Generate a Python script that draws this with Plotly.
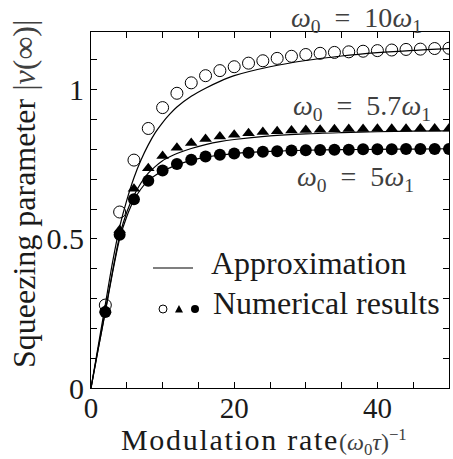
import plotly.graph_objects as go

# ---------------- data ----------------
x_num = [2, 4, 6, 8, 10, 12, 14, 16, 18, 20, 22, 24, 26, 28, 30, 32, 34, 36, 38, 40, 42, 44, 46, 48, 50]
num_w10 = [0.278, 0.590, 0.764, 0.870, 0.940, 0.988, 1.023, 1.047, 1.064, 1.077, 1.089, 1.097, 1.105,
           1.112, 1.118, 1.122, 1.125, 1.127, 1.129, 1.131, 1.133, 1.135, 1.136, 1.138, 1.139]
num_w57 = [0.262, 0.530, 0.668, 0.737, 0.778, 0.805, 0.821, 0.835, 0.843, 0.849, 0.854, 0.858, 0.861,
           0.863, 0.865, 0.866, 0.867, 0.868, 0.868, 0.869, 0.869, 0.869, 0.870, 0.870, 0.870]
num_w5 = [0.255, 0.514, 0.633, 0.695, 0.729, 0.751, 0.765, 0.776, 0.782, 0.786, 0.789, 0.792, 0.794,
          0.796, 0.797, 0.798, 0.799, 0.799, 0.800, 0.800, 0.800, 0.801, 0.801, 0.801, 0.801]

x_apx = [0, 1, 2, 3, 4, 5, 6, 7, 8, 9, 10, 11, 12, 14, 16, 18, 20, 25, 30, 35, 40, 45, 50]
apx_w10 = [0, 0.14, 0.28, 0.42, 0.54, 0.63, 0.705, 0.765, 0.815, 0.857, 0.89, 0.918, 0.942,
           0.978, 1.005, 1.028, 1.047, 1.077, 1.098, 1.113, 1.124, 1.132, 1.138]
apx_w57 = [0, 0.13, 0.258, 0.39, 0.51, 0.59, 0.645, 0.688, 0.72, 0.743, 0.762, 0.775, 0.786,
           0.803, 0.816, 0.826, 0.833, 0.845, 0.852, 0.856, 0.859, 0.861, 0.862]
apx_w5 = [0, 0.13, 0.255, 0.385, 0.50, 0.575, 0.63, 0.668, 0.695, 0.713, 0.727, 0.738, 0.748,
          0.763, 0.774, 0.781, 0.786, 0.793, 0.797, 0.799, 0.800, 0.801, 0.802]

x_ticks = [0, 5, 10, 15, 20, 25, 30, 35, 40, 45, 50]
x_ticklabels = ["0", "", "", "", "20", "", "", "", "40", "", ""]
y_ticks = [0, 0.1, 0.2, 0.3, 0.4, 0.5, 0.6, 0.7, 0.8, 0.9, 1.0, 1.1]
y_ticklabels = ["0", "", "", "", "", "0.5", "", "", "", "", "1", ""]

label_w10 = "<i>ω</i><sub>0</sub>&nbsp;&nbsp;=&nbsp;&nbsp;10<i>ω</i><sub>1</sub>"
label_w57 = "<i>ω</i><sub>0</sub>&nbsp;&nbsp;=&nbsp;&nbsp;5.7<i>ω</i><sub>1</sub>"
label_w5 = "<i>ω</i><sub>0</sub>&nbsp;&nbsp;=&nbsp;&nbsp;5<i>ω</i><sub>1</sub>"
legend_line = "Approximation"
legend_pts = "Numerical results"
x_title = "Modulation rate"
x_title_math = "(<i>ω</i><sub>0</sub><i>τ</i>)<sup>−1</sup>"
y_title = "Squeezing parameter"
y_title_math = "|<i>ν</i>(∞)|"

# ---------------- layout geometry ----------------
W, H = 453, 459
L, R, T, B = 91, 449, 32, 388
SERIF = "Liberation Serif, Times New Roman, serif"
INK = "#1a1a1a"
MATH = "#404040"


def px(xp):
    return (xp - L) / (R - L)


def py(yp):
    return (B - yp) / (B - T)


fig = go.Figure()
line_style = dict(color="black", width=1.2, shape="spline", smoothing=0.8)
for ys in (apx_w10, apx_w57, apx_w5):
    fig.add_trace(go.Scatter(x=x_apx, y=ys, mode="lines", line=line_style,
                             showlegend=False, hoverinfo="skip"))

fig.add_trace(go.Scatter(x=x_num, y=num_w10, mode="markers",
                         marker=dict(symbol="circle-open", size=12, color="black", line=dict(width=1)),
                         showlegend=False))
fig.add_trace(go.Scatter(x=x_num, y=num_w57, mode="markers",
                         marker=dict(symbol="triangle-up", size=11, color="black", line=dict(width=0)),
                         showlegend=False))
fig.add_trace(go.Scatter(x=x_num, y=num_w5, mode="markers",
                         marker=dict(symbol="circle", size=12, color="black", line=dict(width=0)),
                         showlegend=False))

axis_common = dict(showline=True, linecolor="black", linewidth=1, mirror="allticks",
                   ticks="inside", ticklen=6, tickwidth=1, tickcolor="black",
                   showgrid=False, zeroline=False, tickmode="array")

fig.update_xaxes(range=[0, 50], tickvals=x_ticks, ticktext=x_ticklabels,
                 ticklabelstandoff=-6, tickfont=dict(family=SERIF, size=29, color=INK),
                 **axis_common)
fig.update_yaxes(range=[0, (B - T) / 298.3], tickvals=y_ticks, ticktext=y_ticklabels,
                 tickfont=dict(family=SERIF, size=30, color=INK), **axis_common)

ann = []
ann.append(dict(text=label_w10, x=px(356), y=py(19), font=dict(size=28, color=MATH)))
ann.append(dict(text=label_w57, x=px(362), y=py(108), font=dict(size=28, color=MATH)))
ann.append(dict(text=label_w5, x=px(355), y=py(178), font=dict(size=28, color=MATH)))
ann.append(dict(text=legend_line, x=px(209), y=py(263), xanchor="left", font=dict(size=32, color=INK)))
ann.append(dict(text=legend_pts, x=px(211), y=py(303), xanchor="left", font=dict(size=32, color=INK)))
ann.append(dict(text="<span style='letter-spacing:1.7px'>" + x_title + "</span>"
                + "<span style='font-size:24px;color:" + MATH + "'>" + x_title_math + "</span>",
                x=px(264), y=py(441), font=dict(size=30, color=INK)))
ann.append(dict(text=y_title + " <span style='color:" + MATH + "'>" + y_title_math + "</span>",
                x=px(24), y=py(194), textangle=-90, font=dict(size=32, color=INK)))
for a in ann:
    a.setdefault("xanchor", "center")
    a.update(xref="paper", yref="paper", yanchor="middle", showarrow=False)
    a["font"]["family"] = SERIF

shapes = []
shapes.append(dict(type="line", xref="paper", yref="paper", x0=px(153), x1=px(193), y0=py(268), y1=py(268),
                   line=dict(color="black", width=1.2)))
r = 4
shapes.append(dict(type="circle", xref="paper", yref="paper", x0=px(163 - r), x1=px(163 + r),
                   y0=py(309 + r), y1=py(309 - r), line=dict(color="black", width=1)))
shapes.append(dict(type="circle", xref="paper", yref="paper", x0=px(195 - r), x1=px(195 + r),
                   y0=py(309 + r), y1=py(309 - r), fillcolor="black", line=dict(color="black", width=0)))
tri = "M {:.4f} {:.4f} L {:.4f} {:.4f} L {:.4f} {:.4f} Z".format(
    px(179 - 4), py(312.5), px(179 + 4), py(312.5), px(179), py(305))
shapes.append(dict(type="path", xref="paper", yref="paper", path=tri, fillcolor="black",
                   line=dict(color="black", width=0)))

fig.update_layout(width=W, height=H, margin=dict(l=L, r=W - R, t=T, b=H - B),
                  paper_bgcolor="white", plot_bgcolor="white",
                  annotations=ann, shapes=shapes, showlegend=False,
                  font=dict(family=SERIF))

fig.write_html("out.html")
